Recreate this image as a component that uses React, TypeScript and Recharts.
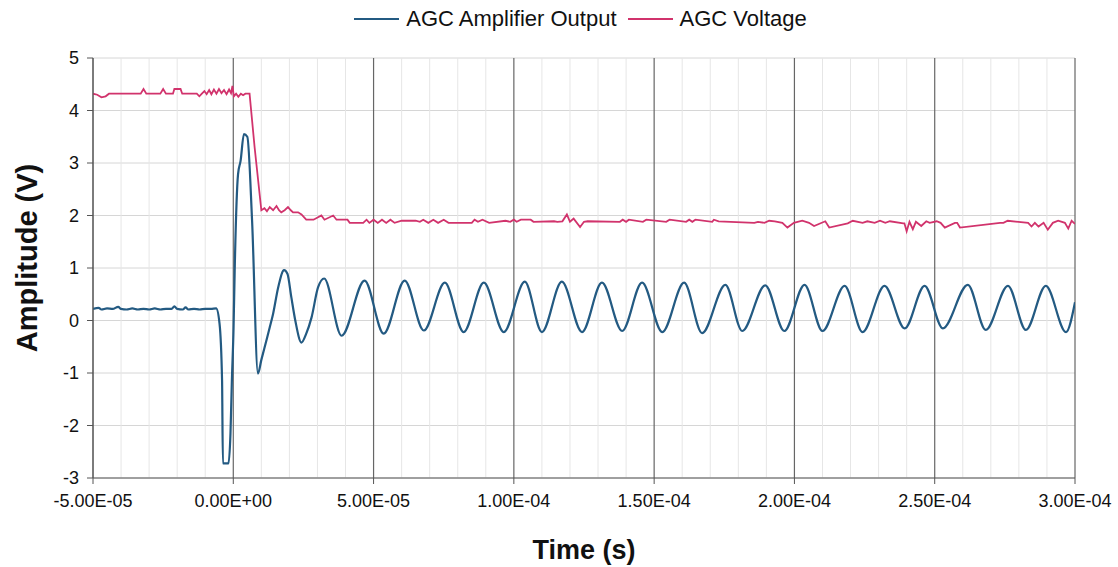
import { LineChart, Line, XAxis, YAxis, CartesianGrid, ReferenceLine, Legend } from "recharts";

// time axis is kept in microseconds, labels printed in seconds
const timeTicks = [-50, 0, 50, 100, 150, 200, 250, 300];
const voltTicks = [-3, -2, -1, 0, 1, 2, 3, 4, 5];
const seriesNames = ["AGC Amplifier Output", "AGC Voltage"];

const ampTimes = [
  -50, -48, -47, -45, -43, -41, -40, -38, -36, -34, -32, -30, -28, -26, -24, -22, -21, -20, -18, -17,
  -16, -14, -12, -10, -8, -6.1, -4.9, -4.0, -3.7, -1.7, -1.0, -0.5, 0.1, 0.5, 1.7, 2.6, 3.8, 5.0,
  6.7, 8.8, 10, 11.8, 13.0, 14.2, 16.0, 18.1, 19.3, 20.7, 22.1, 24.3, 26, 27.9, 30.2, 32.4,
  38.6, 46.8, 53.6, 61.1, 67.9, 75.4, 82.1, 89.3, 96.4, 103.9, 110.0, 117.1, 124.3, 131.4, 138.6,
  145.7, 152.9, 160.7, 167.1, 175.4, 181.4, 189.6, 196.4, 203.6, 210.0, 217.9, 224.3, 232.1, 239.3,
  246.4, 252.9, 261.8, 268.2, 276.1, 282.5, 289.6, 296.8, 300,
];
const ampValues = [
  0.22, 0.24, 0.21, 0.23, 0.22, 0.26, 0.22, 0.21, 0.23, 0.21, 0.22, 0.21, 0.23, 0.21, 0.22, 0.22, 0.27, 0.22, 0.21, 0.25,
  0.21, 0.22, 0.21, 0.22, 0.22, 0.23, -0.06, -1.14, -2.72, -2.72, -2.15, -1.14, -0.13, 0.95, 2.79, 3.04, 3.55, 3.5,
  1.9, -1.01, -0.75, -0.38, -0.13, 0.13, 0.63, 0.96, 0.89, 0.44, 0.0, -0.42, -0.25, 0.06, 0.63, 0.8,
  -0.29, 0.76, -0.25, 0.76, -0.19, 0.72, -0.22, 0.72, -0.22, 0.74, -0.22, 0.74, -0.22, 0.72, -0.2,
  0.72, -0.22, 0.72, -0.24, 0.68, -0.2, 0.67, -0.2, 0.68, -0.2, 0.66, -0.22, 0.66, -0.15,
  0.66, -0.15, 0.68, -0.18, 0.66, -0.18, 0.66, -0.22, 0.35,
];

const agcTimes = [
  -50, -48.5, -47, -45.5, -44.3, -33, -32, -31, -26, -25, -24, -21.5, -21, -18.8, -18.2, -13, -12.1, -11.2,
  -10.3, -9.5, -8.6, -7.8, -6.9, -6.0, -5.1, -4.2, -3.3, -2.4, -1.5, -0.8, -0.3, 0.2, 1.0, 1.8, 2.7, 3.5,
  4.3, 5.8, 7.6, 10, 11.1, 12, 13, 14.2, 15.4, 16.3, 17.1, 18.3, 19.5, 20.5, 21.3, 23.1, 24.3, 26, 28.6,
  31.4, 32.5, 35.6, 36.8, 40.7, 41.5, 46.3, 47.5, 48.5, 50, 51.5, 53, 54.5, 56, 57.5, 60, 65, 66.5, 67.7,
  69.5, 71.3, 73, 75, 76.7, 85, 86, 87.2, 88.8, 91.2, 97, 98.7, 100, 101, 102.5, 104, 106, 107, 114.3,
  115.5, 117.3, 118.9, 120, 121.3, 123.6, 125, 126.3, 137.8, 138.8, 140, 141, 146, 147.2, 154.3, 155.5,
  161.4, 162.5, 163.6, 164.7, 170.7, 171.3, 173, 185.7, 187, 189.3, 191, 193, 195.7, 197.5, 199.8, 202.8,
  205.2, 207, 211, 212.4, 219, 220.8, 224.3, 226, 228.6, 230.5, 232.4, 234, 238.8, 239.2, 240, 241, 242.2,
  243.3, 245.2, 247, 248.2, 250.7, 252.1, 253.6, 257.2, 258, 259, 273.3, 274.5, 276, 283.3, 284.5, 285.7,
  287, 288.8, 290.3, 292.1, 294, 296.4, 297.6, 298.8, 300,
];
const agcValues = [
  4.32, 4.3, 4.25, 4.27, 4.32, 4.32, 4.41, 4.32, 4.32, 4.41, 4.32, 4.32, 4.41, 4.41, 4.32, 4.32, 4.27, 4.32,
  4.37, 4.31, 4.39, 4.31, 4.4, 4.32, 4.41, 4.33, 4.39, 4.31, 4.4, 4.33, 4.47, 4.27, 4.32, 4.26, 4.32, 4.29,
  4.32, 4.32, 3.3, 2.1, 2.14, 2.08, 2.16, 2.1, 2.18, 2.1, 2.06, 2.1, 2.16, 2.1, 2.06, 2.06, 2.02, 1.92, 1.92,
  2.0, 1.92, 2.0, 1.92, 1.92, 1.86, 1.86, 1.92, 1.86, 1.92, 1.86, 1.92, 1.86, 1.92, 1.86, 1.9, 1.9, 1.88, 1.92,
  1.86, 1.92, 1.86, 1.92, 1.86, 1.86, 1.92, 1.88, 1.92, 1.86, 1.9, 1.88, 1.92, 1.88, 1.92, 1.92, 1.92, 1.88, 1.89,
  1.88, 1.89, 2.02, 1.88, 1.94, 1.78, 1.88, 1.89, 1.88, 1.92, 1.88, 1.92, 1.88, 1.92, 1.88, 1.92, 1.88,
  1.92, 1.88, 1.92, 1.88, 1.92, 1.89, 1.86, 1.88, 1.86, 1.9, 1.89, 1.86, 1.77, 1.86, 1.9, 1.86,
  1.8, 1.89, 1.77, 1.85, 1.9, 1.86, 1.89, 1.86, 1.9, 1.86, 1.89, 1.85, 1.85, 1.7, 1.88, 1.74, 1.88,
  1.8, 1.89, 1.86, 1.89, 1.86, 1.77, 1.86, 1.86, 1.77, 1.86, 1.86, 1.9, 1.86, 1.79, 1.86, 1.79,
  1.86, 1.73, 1.86, 1.9, 1.86, 1.75, 1.9, 1.84, 1.82,
];

const ampData = ampTimes.map((t, i) => ({ t, v: ampValues[i] }));
const agcData = agcTimes.map((t, i) => ({ t, v: agcValues[i] }));

const minorGrid: number[] = [];
for (let k = -40; k < 300; k += 10) if (k % 50 !== 0) minorGrid.push(k);

const FONT = "'Liberation Sans', Arial, sans-serif";
const BLUE = "#235a82";
const PINK = "#d1336c";

function sci(us: number) {
  const [m, e] = (us * 1e-6).toExponential(2).split("e");
  const n = parseInt(e, 10);
  return `${m}E${n < 0 ? "-" : "+"}${String(Math.abs(n)).padStart(2, "0")}`;
}

function LegendBox() {
  const item = (name: string, color: string, gap: number) => (
    <div key={name} style={{ display: "flex", alignItems: "center", marginRight: gap }}>
      <div style={{ width: 45, height: 2, background: color, marginRight: 7 }} />
      <span>{name}</span>
    </div>
  );
  return (
    <div
      style={{
        display: "flex",
        justifyContent: "center",
        alignItems: "center",
        fontFamily: FONT,
        fontSize: 22,
        color: "#111",
        lineHeight: "30px",
        paddingLeft: 43,
      }}
    >
      {item(seriesNames[0], BLUE, 11)}
      {item(seriesNames[1], PINK, 0)}
    </div>
  );
}

export default function App() {
  return (
    <div style={{ position: "absolute", left: 0, top: 0, background: "#fff" }}>
      <LineChart width={1118} height={567} margin={{ top: 58, right: 43, left: 0, bottom: 0 }}>
        <CartesianGrid vertical={false} stroke="#d6d6d6" strokeWidth={1} />
        {minorGrid.map((x) => (
          <ReferenceLine key={`m${x}`} x={x} stroke="#e6e6e6" strokeWidth={1} />
        ))}
        {timeTicks.map((x) => (
          <ReferenceLine key={`M${x}`} x={x} stroke="#666" strokeWidth={1.2} />
        ))}
        <XAxis
          dataKey="t"
          type="number"
          domain={[-50, 300]}
          ticks={timeTicks}
          tickFormatter={sci}
          allowDataOverflow
          height={89}
          tickSize={6}
          tickMargin={10}
          stroke="#555"
          tick={{ fontSize: 18, fontFamily: FONT, fill: "#111" }}
          label={({ viewBox }: any) => (
            <text
              x={viewBox.x + viewBox.width / 2}
              y={viewBox.y + 72}
              textAnchor="middle"
              dominantBaseline="central"
              fontFamily={FONT}
              fontSize={27}
              fontWeight="bold"
              fill="#111"
            >
              Time (s)
            </text>
          )}
        />
        <YAxis
          type="number"
          domain={[-3, 5]}
          ticks={voltTicks}
          width={93}
          tickSize={6}
          tickMargin={8}
          stroke="#555"
          tick={{ fontSize: 18, fontFamily: FONT, fill: "#111" }}
          label={({ viewBox }: any) => {
            const cx = viewBox.x + 27;
            const cy = viewBox.y + viewBox.height / 2 - 10;
            return (
              <text
                x={cx}
                y={cy}
                transform={`rotate(-90 ${cx} ${cy})`}
                textAnchor="middle"
                dominantBaseline="central"
                fontFamily={FONT}
                fontSize={29}
                fontWeight="bold"
                fill="#111"
              >
                Amplitude (V)
              </text>
            );
          }}
        />
        <Legend verticalAlign="middle" align="center" content={<LegendBox />} wrapperStyle={{ top: 4, left: 0, width: 1118 }} />
        <Line
          data={ampData}
          dataKey="v"
          name={seriesNames[0]}
          type="monotone"
          stroke={BLUE}
          strokeWidth={2.2}
          dot={false}
          isAnimationActive={false}
        />
        <Line
          data={agcData}
          dataKey="v"
          name={seriesNames[1]}
          type="linear"
          stroke={PINK}
          strokeWidth={1.8}
          dot={false}
          isAnimationActive={false}
        />
      </LineChart>
    </div>
  );
}
